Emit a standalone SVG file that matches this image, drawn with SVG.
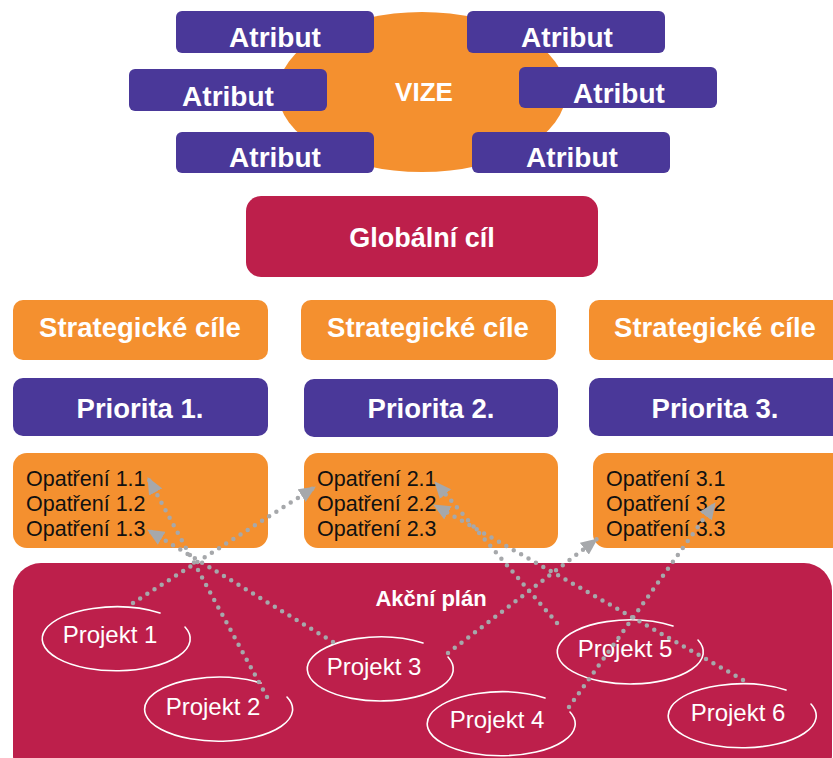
<svg xmlns="http://www.w3.org/2000/svg" width="833" height="758" viewBox="0 0 833 758">
<style>
.org{fill:#F4902F}
.pur{fill:#4A3899}
.red{fill:#BD1F4B}
.bt{font-family:"Liberation Sans",Arial,sans-serif;font-weight:bold;fill:#fff;text-anchor:middle}
.op{font-family:"Liberation Sans",Arial,sans-serif;font-size:21.5px;fill:#111}
.pj{font-family:"Liberation Sans",Arial,sans-serif;font-size:24px;fill:#fff;text-anchor:middle}
.hand{fill:none;stroke:#fff;stroke-width:1.6;stroke-linecap:round}
.dot{fill:none;stroke:#A6A8AB;stroke-width:4.5;stroke-dasharray:0 8.5;stroke-linecap:round;marker-end:url(#ah)}
</style>
<defs>
<marker id="ah" viewBox="0 0 17 15" refX="16" refY="7.5" markerWidth="17" markerHeight="15" markerUnits="userSpaceOnUse" orient="auto">
<path d="M0,0 L17,7.5 L0,15 z" fill="#A6A8AB"/>
</marker>
</defs>
<rect width="833" height="758" fill="#fff"/>

<g id="vize">
<ellipse class="org" cx="422" cy="92" rx="144" ry="80"/>
<text class="bt" x="424" y="101" font-size="26">VIZE</text>
</g>
<g id="atribut1"><rect class="pur" x="176" y="11" width="198" height="42" rx="6"/><text class="bt" x="275" y="47" font-size="28">Atribut</text></g>
<g id="atribut2"><rect class="pur" x="467" y="11" width="198" height="42" rx="6"/><text class="bt" x="567" y="47" font-size="28">Atribut</text></g>
<g id="atribut3"><rect class="pur" x="129" y="69" width="198" height="42" rx="6"/><text class="bt" x="228" y="106" font-size="28">Atribut</text></g>
<g id="atribut4"><rect class="pur" x="519" y="67" width="198" height="41" rx="6"/><text class="bt" x="619" y="103" font-size="28">Atribut</text></g>
<g id="atribut5"><rect class="pur" x="176" y="132" width="198" height="41" rx="6"/><text class="bt" x="275" y="167" font-size="28">Atribut</text></g>
<g id="atribut6"><rect class="pur" x="472" y="132" width="198" height="41" rx="6"/><text class="bt" x="572" y="167" font-size="28">Atribut</text></g>

<g id="globalni"><rect class="red" x="246" y="196" width="352" height="81" rx="15"/><text class="bt" x="422" y="247" font-size="27">Globální cíl</text></g>

<g id="strat1"><rect class="org" x="13" y="300" width="255" height="60" rx="10"/><text class="bt" x="140" y="337" font-size="27.5">Strategické cíle</text></g>
<g id="strat2"><rect class="org" x="301" y="300" width="255" height="60" rx="10"/><text class="bt" x="428" y="337" font-size="27.5">Strategické cíle</text></g>
<g id="strat3"><rect class="org" x="589" y="300" width="260" height="60" rx="10"/><text class="bt" x="715" y="337" font-size="27.5">Strategické cíle</text></g>

<g id="prio1"><rect class="pur" x="13" y="378" width="255" height="58" rx="10"/><text class="bt" x="140" y="418" font-size="27.5">Priorita 1.</text></g>
<g id="prio2"><rect class="pur" x="304" y="379" width="254" height="58" rx="10"/><text class="bt" x="431" y="418" font-size="27.5">Priorita 2.</text></g>
<g id="prio3"><rect class="pur" x="589" y="378" width="260" height="58" rx="10"/><text class="bt" x="715" y="418" font-size="27.5">Priorita 3.</text></g>

<g id="opatreni1"><rect class="org" x="13" y="453" width="255" height="95" rx="14"/>
<text class="op" x="26" y="486">Opatření 1.1</text><text class="op" x="26" y="511">Opatření 1.2</text><text class="op" x="26" y="536">Opatření 1.3</text></g>
<g id="opatreni2"><rect class="org" x="304" y="453" width="254" height="95" rx="14"/>
<text class="op" x="317" y="486">Opatření 2.1</text><text class="op" x="317" y="511">Opatření 2.2</text><text class="op" x="317" y="536">Opatření 2.3</text></g>
<g id="opatreni3"><rect class="org" x="593" y="453" width="260" height="95" rx="14"/>
<text class="op" x="606" y="486">Opatření 3.1</text><text class="op" x="606" y="511">Opatření 3.2</text><text class="op" x="606" y="536">Opatření 3.3</text></g>

<g id="akcni"><rect class="red" x="13" y="563" width="819" height="220" rx="28"/>
<text class="bt" x="431" y="606" font-size="22">Akční plán</text></g>

<g id="projekt1"><path class="hand" d="M160,613 A74,32 0 1 0 185,627"/><text class="pj" x="110" y="643">Projekt 1</text></g>
<g id="projekt2"><path class="hand" d="M261,683 A74,32 0 1 0 287,697"/><text class="pj" x="213" y="715">Projekt 2</text></g>
<g id="projekt3"><path class="hand" d="M423,643 A73,32 0 1 0 448,657"/><text class="pj" x="374" y="675">Projekt 3</text></g>
<g id="projekt4"><path class="hand" d="M545,698 A74,32 0 1 0 570,712"/><text class="pj" x="497" y="728">Projekt 4</text></g>
<g id="projekt5"><path class="hand" d="M673,626 A73,32 0 1 0 698,640"/><text class="pj" x="625" y="657">Projekt 5</text></g>
<g id="projekt6"><path class="hand" d="M786,690 A74,32 0 1 0 811,704"/><text class="pj" x="738" y="721">Projekt 6</text></g>

<g id="connectors">
<line class="dot" x1="133" y1="603" x2="315" y2="487"/>
<line class="dot" x1="267" y1="697" x2="148" y2="478"/>
<line class="dot" x1="333" y1="642" x2="148" y2="530"/>
<line class="dot" x1="448" y1="653" x2="597" y2="539"/>
<line class="dot" x1="569" y1="707" x2="715" y2="503"/>
<line class="dot" x1="557" y1="623" x2="435" y2="482"/>
<line class="dot" x1="743" y1="680" x2="434" y2="505"/>
</g>
</svg>
